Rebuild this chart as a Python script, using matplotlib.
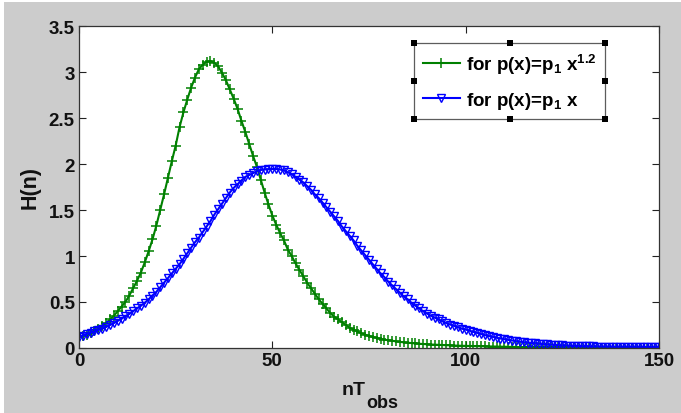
import numpy as np
import matplotlib
matplotlib.use("Agg")
import matplotlib.pyplot as plt
from matplotlib.patches import Rectangle

# ---------------- data ----------------
n_values = list(range(0, 151))

h_green = [
    0.12, 0.13, 0.145, 0.16, 0.18, 0.21, 0.24, 0.27, 0.31, 0.35,
    0.40, 0.45, 0.50, 0.57, 0.65, 0.73, 0.82, 0.93, 1.05, 1.18,
    1.33, 1.50, 1.67, 1.85, 2.03, 2.20, 2.40, 2.56, 2.70, 2.83,
    2.94, 3.03, 3.08, 3.11, 3.12, 3.10, 3.06, 2.99, 2.91, 2.81,
    2.71, 2.60, 2.47, 2.35, 2.22, 2.09, 1.97, 1.83, 1.69, 1.56,
    1.44, 1.34, 1.25, 1.17, 1.07, 1.00, 0.92, 0.85, 0.78, 0.71,
    0.65, 0.59, 0.53, 0.48, 0.43, 0.38, 0.34, 0.31, 0.28, 0.25,
    0.22, 0.20, 0.18, 0.16, 0.145, 0.13, 0.12, 0.11, 0.10, 0.09,
    0.085, 0.078, 0.072, 0.066, 0.061, 0.057, 0.053, 0.049, 0.046, 0.043,
    0.040, 0.038, 0.036, 0.034, 0.032, 0.030, 0.028, 0.027, 0.025, 0.024,
    0.022, 0.021, 0.020, 0.019, 0.018, 0.017, 0.016, 0.015, 0.014, 0.013,
    0.012, 0.012, 0.011, 0.011, 0.010, 0.010, 0.009, 0.009, 0.009, 0.008,
    0.008, 0.008, 0.007, 0.007, 0.007, 0.006, 0.006, 0.006, 0.006, 0.005,
    0.005, 0.005, 0.005, 0.005, 0.004, 0.004, 0.004, 0.004, 0.004, 0.004,
    0.003, 0.003, 0.003, 0.003, 0.003, 0.003, 0.003, 0.003, 0.003, 0.003,
    0.003,
]

h_blue = [
    0.12, 0.135, 0.15, 0.165, 0.18, 0.195, 0.21, 0.23, 0.25, 0.27,
    0.295, 0.32, 0.345, 0.37, 0.40, 0.43, 0.46, 0.49, 0.53, 0.57,
    0.61, 0.66, 0.71, 0.76, 0.81, 0.86, 0.91, 0.97, 1.03, 1.09,
    1.15, 1.20, 1.26, 1.32, 1.38, 1.45, 1.51, 1.57, 1.63, 1.69,
    1.74, 1.78, 1.82, 1.86, 1.88, 1.90, 1.92, 1.935, 1.94, 1.945,
    1.945, 1.945, 1.94, 1.93, 1.91, 1.89, 1.86, 1.83, 1.80, 1.76,
    1.72, 1.67, 1.63, 1.58, 1.53, 1.48, 1.43, 1.38, 1.32, 1.27,
    1.22, 1.17, 1.11, 1.06, 1.01, 0.96, 0.91, 0.86, 0.81, 0.77,
    0.72, 0.68, 0.64, 0.60, 0.56, 0.53, 0.49, 0.46, 0.43, 0.40,
    0.375, 0.35, 0.33, 0.31, 0.29, 0.27, 0.255, 0.24, 0.225, 0.21,
    0.20, 0.187, 0.175, 0.163, 0.151, 0.14, 0.13, 0.12, 0.111, 0.103,
    0.095, 0.088, 0.081, 0.075, 0.069, 0.063, 0.058, 0.054, 0.050, 0.046,
    0.042, 0.039, 0.036, 0.033, 0.030, 0.028, 0.026, 0.024, 0.022, 0.021,
    0.020, 0.019, 0.018, 0.017, 0.016, 0.016, 0.015, 0.015, 0.014, 0.014,
    0.013, 0.013, 0.013, 0.012, 0.012, 0.012, 0.012, 0.011, 0.011, 0.011,
    0.011,
]

label_green = r"for p(x)=p$_1$ x$^{1.2}$"
label_blue = r"for p(x)=p$_1$ x"
x_label_main = "nT"
x_label_sub = "obs"
y_label = "H(n)"
x_ticks = [0, 50, 100, 150]
y_ticks = [0, 0.5, 1, 1.5, 2, 2.5, 3, 3.5]
x_tick_labels = ["0", "50", "100", "150"]
y_tick_labels = ["0", "0.5", "1", "1.5", "2", "2.5", "3", "3.5"]

# ---------------- style ----------------
plt.rcParams["font.family"] = ["Liberation Sans", "DejaVu Sans"]
plt.rcParams["font.weight"] = "bold"
plt.rcParams["mathtext.fontset"] = "custom"
plt.rcParams["mathtext.rm"] = "Liberation Sans:bold"
plt.rcParams["mathtext.it"] = "Liberation Sans:bold"
plt.rcParams["mathtext.bf"] = "Liberation Sans:bold"
plt.rcParams["mathtext.default"] = "rm"

W, H = 681, 414
fig = plt.figure(figsize=(W / 100, H / 100), dpi=100, facecolor="#cccccc")

# white strips on left/top border as in the reference screenshot
fig.patches.append(Rectangle((0, 0), 4 / W, 1, transform=fig.transFigure,
                             facecolor="white", edgecolor="none", zorder=-5))
fig.patches.append(Rectangle((0, 1 - 3 / H), 1, 3 / H, transform=fig.transFigure,
                             facecolor="white", edgecolor="none", zorder=-5))

left, right, top, bottom = 79, 659, 27, 349
ax = fig.add_axes([left / W, 1 - bottom / H, (right - left) / W, (bottom - top) / H])
ax.set_facecolor("white")

ax.plot(n_values, h_green, color="#008000", lw=1.5, marker="+", ms=7,
        mew=1.1, label=label_green)
ax.plot(n_values, h_blue, color="#0000ff", lw=1.5, marker="v", ms=6,
        mfc="none", mew=1.0, label=label_blue)

ax.set_xlim(0, 150)
ax.set_ylim(0, 3.5)
ax.set_xticks(x_ticks)
ax.set_xticklabels(x_tick_labels)
ax.set_yticks(y_ticks)
ax.set_yticklabels(y_tick_labels)
ax.tick_params(direction="in", length=5, width=0.8, top=True, right=True,
               labelsize=13.5, pad=3, colors="#222222", labelcolor="#111111")
for s in ax.spines.values():
    s.set_color("#333333")
    s.set_linewidth(0.9)

# x label: "nT" with a lowered, nearly full-size "obs" subscript
fig.text(366 / W, 1 - 395 / H, x_label_main, ha="right", va="baseline",
         fontsize=14, fontweight="bold", color="#111111")
fig.text(366 / W, 1 - 408 / H, x_label_sub, ha="left", va="baseline",
         fontsize=13, fontweight="bold", color="#111111")
ax.set_ylabel(y_label, fontsize=15.5, fontweight="bold", labelpad=6,
              color="#111111")

leg = ax.legend(loc="upper left", bbox_to_anchor=(0.578, 0.947), fontsize=13.5,
                frameon=True, fancybox=False, edgecolor="#333333",
                handlelength=2.0, handletextpad=0.3, borderpad=0.45,
                labelspacing=0.75, borderaxespad=0)
leg.get_frame().set_linewidth(0.9)

# selection handles (small black squares) on the legend frame
fig.canvas.draw()
bb = leg.get_window_extent().transformed(fig.transFigure.inverted())
sw, sh = 6 / W, 6 / H
for fx in (bb.x0, (bb.x0 + bb.x1) / 2, bb.x1):
    for fy in (bb.y0, (bb.y0 + bb.y1) / 2, bb.y1):
        if fx == (bb.x0 + bb.x1) / 2 and fy == (bb.y0 + bb.y1) / 2:
            continue
        fig.patches.append(Rectangle((fx - sw / 2, fy - sh / 2), sw, sh,
                                     transform=fig.transFigure,
                                     facecolor="black", edgecolor="none",
                                     zorder=10))

fig.savefig("out.png", dpi=100, facecolor=fig.get_facecolor())
